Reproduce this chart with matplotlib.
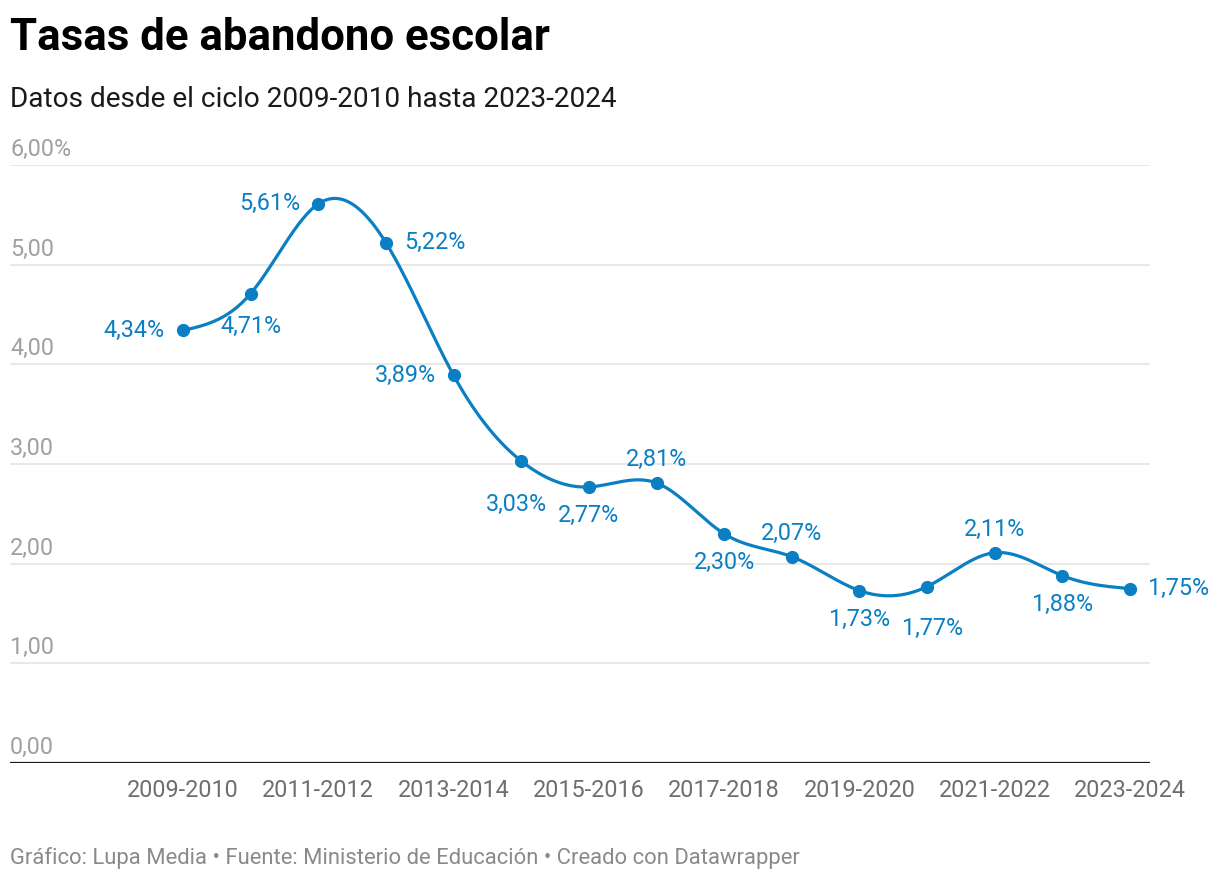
import numpy as np
import matplotlib.pyplot as plt
from matplotlib import transforms

plt.rcParams['font.family'] = ['Roboto', 'DejaVu Sans']

# Data
ciclos = ['2009-2010', '2010-2011', '2011-2012', '2012-2013', '2013-2014',
          '2014-2015', '2015-2016', '2016-2017', '2017-2018', '2018-2019',
          '2019-2020', '2020-2021', '2021-2022', '2022-2023', '2023-2024']
tasas = [4.34, 4.71, 5.61, 5.22, 3.89, 3.03, 2.77, 2.81, 2.30, 2.07,
         1.73, 1.77, 2.11, 1.88, 1.75]
# where each value label sits relative to its point
label_pos = ['left', 'below_far', 'left', 'right', 'left', 'below_left', 'below',
             'above', 'below', 'above', 'below', 'below_right', 'above',
             'below', 'right']
yticks = [0, 1, 2, 3, 4, 5, 6]

BLUE = '#0a7fc4'
LBL = 16.8


def natural_spline(y, n=30):
    # natural cubic spline through evenly spaced points
    y = np.asarray(y, dtype=float)
    k = len(y)
    A = np.zeros((k, k))
    b = np.zeros(k)
    A[0, 0] = A[-1, -1] = 1
    for i in range(1, k - 1):
        A[i, i - 1:i + 2] = [1, 4, 1]
        b[i] = 6 * (y[i + 1] - 2 * y[i] + y[i - 1])
    M = np.linalg.solve(A, b)
    xs, ys = [], []
    t = np.linspace(0, 1, n, endpoint=False)
    for i in range(k - 1):
        s = (M[i] * (1 - t) ** 3 / 6 + M[i + 1] * t ** 3 / 6
             + (y[i] - M[i] / 6) * (1 - t) + (y[i + 1] - M[i + 1] / 6) * t)
        xs.append(i + t)
        ys.append(s)
    xs.append([k - 1])
    ys.append([y[-1]])
    return np.concatenate(xs), np.concatenate(ys)


fig = plt.figure(figsize=(12.2, 8.8), dpi=100)
ax = fig.add_axes([10 / 1220, 1 - 763 / 880, 1140 / 1220, 598 / 880])

x = np.arange(len(tasas))
sx, sy = natural_spline(tasas)
ax.plot(sx, sy, color=BLUE, lw=2.3, solid_capstyle='round', zorder=3)
ax.plot(x, tasas, 'o', color=BLUE, ms=8.5, zorder=4)

offsets = {
    'left': ((-18, 0), 'right', 'center'),
    'right': ((18, 0), 'left', 'center'),
    'below': ((0, -29), 'center', 'center'),
    'below_far': ((0, -33), 'center', 'center'),
    'above': ((0, 23), 'center', 'center'),
    'below_left': ((-5, -43), 'center', 'center'),
    'below_right': ((6, -42), 'center', 'center'),
}
for xi, v, p in zip(x, tasas, label_pos):
    off, ha, va = offsets[p]
    ax.annotate(f'{v:.2f}%'.replace('.', ','), (xi, v), xytext=off,
                textcoords='offset pixels', ha=ha, va=va,
                fontsize=LBL, color=BLUE, zorder=5)

ax.set_xlim(-2.558, 14.296)
ax.set_ylim(0, 6)

for yt in yticks[1:]:
    ax.axhline(yt, color='#e2e2e2', lw=1.1, zorder=1)
ax.axhline(0, color='#1a1a1a', lw=1.6, zorder=2)

trans = transforms.blended_transform_factory(ax.transAxes, ax.transData)
for yt in yticks:
    lab = f'{yt:.2f}'.replace('.', ',')
    if yt == yticks[-1]:
        lab += '%'
    t = ax.text(0, yt, lab, transform=trans, ha='left', va='bottom',
                fontsize=LBL, color='#a0a0a0')
    t.set_transform(trans + transforms.ScaledTranslation(0, 4 / 100, fig.dpi_scale_trans))

for xi in x[::2]:
    ax.text(xi, 0, ciclos[xi], ha='center', va='center', fontsize=LBL,
            color='#6e6e6e',
            transform=ax.transData + transforms.ScaledTranslation(0, -27 / 100, fig.dpi_scale_trans))

ax.axis('off')

fig.text(10 / 1220, 1 - 50 / 880, 'Tasas de abandono escolar', fontsize=31.5,
         fontweight='bold', color='#000000', va='baseline')
fig.text(10 / 1220, 1 - 107 / 880, 'Datos desde el ciclo 2009-2010 hasta 2023-2024',
         fontsize=20.2, color='#1a1a1a', va='baseline')
fig.text(10 / 1220, 1 - 864 / 880,
         'Gráfico: Lupa Media • Fuente: Ministerio de Educación • Creado con Datawrapper',
         fontsize=15.8, color='#8a8a8a', va='baseline')

fig.savefig('out.png', dpi=100)
